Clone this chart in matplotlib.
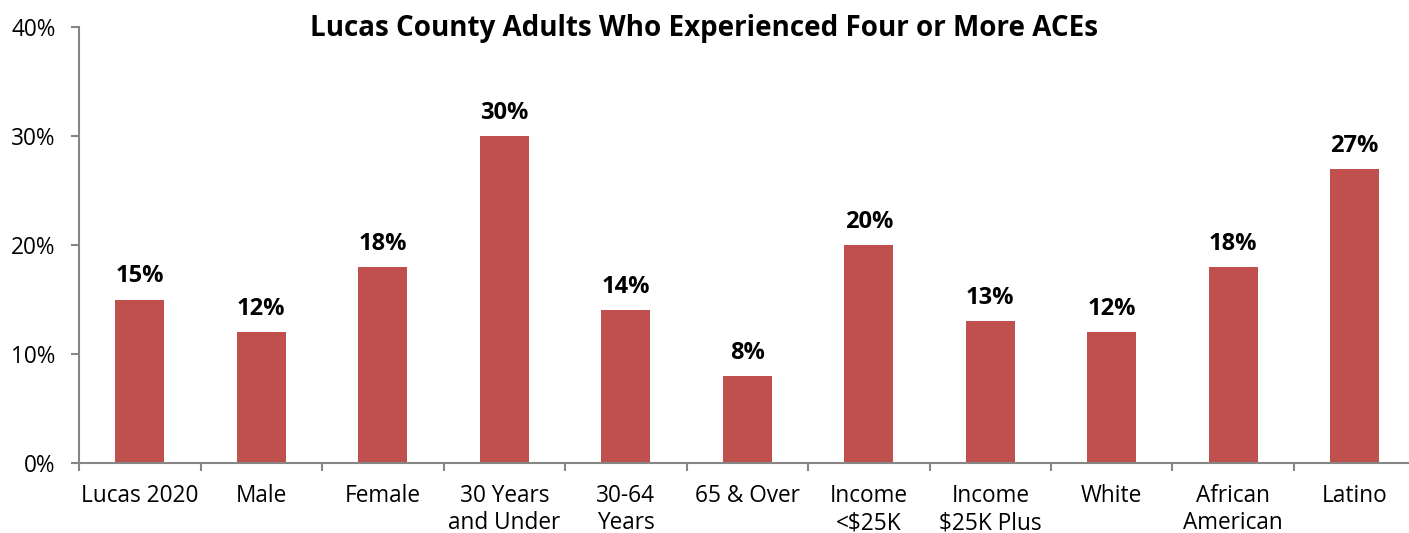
import matplotlib
matplotlib.use("Agg")
import matplotlib.pyplot as plt
import numpy as np

categories = ["Lucas 2020", "Male", "Female", "30 Years\nand Under", "30-64\nYears",
              "65 & Over", "Income\n<$25K", "Income\n$25K Plus", "White",
              "African\nAmerican", "Latino"]
values = [15, 12, 18, 30, 14, 8, 20, 13, 12, 18, 27]
yticks = [0, 10, 20, 30, 40]

plt.rcParams['font.family'] = ['Open Sans', 'DejaVu Sans']

fig = plt.figure(figsize=(14.09, 5.33), dpi=100)
ax = fig.add_axes([0.0561, 0.1313, 0.9485, 0.818])

x = np.arange(len(categories))
bars = ax.bar(x, values, width=0.403, color='#C0504D')
for xi, v in zip(x, values):
    ax.annotate(f"{v}%", (xi, v), xytext=(0, 8), textcoords='offset points',
                ha='center', va='bottom', fontsize=17, fontweight='bold')

ax.set_xlim(-0.5, len(categories) - 0.5)
ax.set_ylim(0, 40)
ax.set_yticks(yticks)
ax.set_yticklabels([f"{t}%" for t in yticks], fontsize=16.3)
ax.set_xticks(x)
ax.set_xticklabels(categories, fontsize=16.3, linespacing=1.18)
ax.set_xticks(np.arange(len(categories) + 1) - 0.5, minor=True)
ax.tick_params(axis='x', which='major', length=0, pad=15)
ax.tick_params(axis='x', which='minor', length=6, color='#868686', width=1.5)
ax.tick_params(axis='y', length=6, color='#868686', width=1.5, pad=11)

for s in ['top', 'right']:
    ax.spines[s].set_visible(False)
for s in ['left', 'bottom']:
    ax.spines[s].set_color('#868686')
    ax.spines[s].set_linewidth(1.5)

fig.text(0.5, 0.947, "Lucas County Adults Who Experienced Four or More ACEs",
         ha='center', va='center', fontsize=20, fontweight='bold')

fig.savefig("out.png", dpi=100)
